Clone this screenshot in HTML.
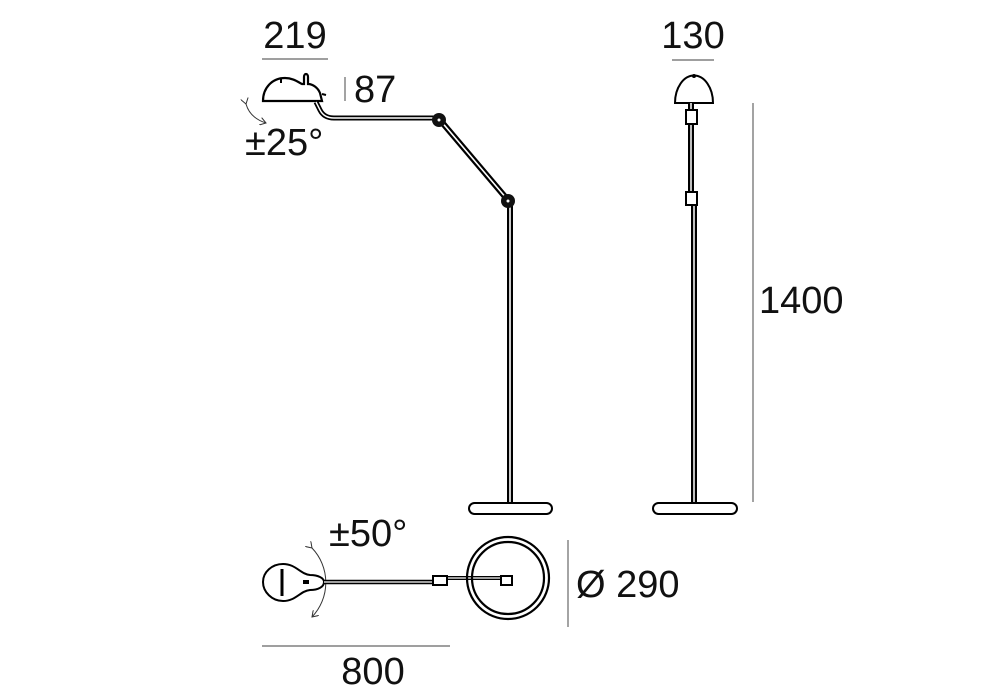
<!DOCTYPE html>
<html><head><meta charset="utf-8"><style>
html,body{margin:0;padding:0;background:#fff;width:1000px;height:700px;overflow:hidden}
svg{display:block}
text{font-family:"Liberation Sans",Arial,sans-serif;fill:#111}
</style></head><body>
<svg width="1000" height="700" viewBox="0 0 1000 700" xmlns="http://www.w3.org/2000/svg">
<defs>
<marker id="ah" markerWidth="8" markerHeight="8" refX="6" refY="4" orient="auto" markerUnits="userSpaceOnUse">
<path d="M0,0 L6,4 L0,8" fill="none" stroke="#333" stroke-width="1"/>
</marker>
</defs>
<!-- Side view -->
<text x="295" y="48" font-size="38" text-anchor="middle">219</text>
<line x1="262" y1="59" x2="328" y2="59" stroke="#666" stroke-width="1.2"/>
<text x="354" y="102" font-size="38">87</text>
<line x1="345" y1="77" x2="345" y2="101" stroke="#666" stroke-width="1.2"/>
<path d="M263,101 C263,88 272,78 285,78 C293,78 298,82 302,84 L304,84 L304,77 C304,73 308,73 308,77 L308,84 C313,84 318,88 320,93 L322,101 Z" fill="#fff" stroke="#000" stroke-width="2.2"/>
<line x1="281" y1="78" x2="281" y2="83" stroke="#000" stroke-width="2"/>
<path d="M322,94 L326,95" stroke="#000" stroke-width="2"/>
<path d="M316,102 L320,110 Q324,118 334,118 L438,118" fill="none" stroke="#000" stroke-width="5"/>
<path d="M316,102 L320,110 Q324,118 334,118 L438,118" fill="none" stroke="#fff" stroke-width="1.4"/>
<line x1="440" y1="120" x2="507" y2="199" stroke="#000" stroke-width="6"/>
<line x1="440" y1="120" x2="507" y2="199" stroke="#fff" stroke-width="1.6"/>
<line x1="510" y1="200" x2="510" y2="504" stroke="#000" stroke-width="6"/>
<line x1="510" y1="200" x2="510" y2="504" stroke="#fff" stroke-width="1.6"/>
<circle cx="439" cy="120" r="7" fill="#111"/>
<circle cx="439" cy="120" r="1.5" fill="#fff"/>
<circle cx="508" cy="201" r="7" fill="#111"/>
<circle cx="508" cy="201" r="1.5" fill="#fff"/>
<rect x="469" y="503" width="83" height="11" rx="5.5" fill="#fff" stroke="#000" stroke-width="2"/>
<path d="M246,104 Q250,118 266,123" fill="none" stroke="#333" stroke-width="1" marker-end="url(#ah)" marker-start="url(#ah)"/>
<text x="245" y="155" font-size="38">±25°</text>

<!-- Front view -->
<text x="693" y="48" font-size="38" text-anchor="middle">130</text>
<line x1="672" y1="60" x2="714" y2="60" stroke="#666" stroke-width="1.2"/>
<path d="M675,103 A18,26 0 0 1 713,103 Z" fill="#fff" stroke="#000" stroke-width="2"/>
<circle cx="694" cy="76" r="2" fill="#000"/>
<line x1="691" y1="103" x2="691" y2="192" stroke="#000" stroke-width="6"/>
<line x1="691" y1="103" x2="691" y2="192" stroke="#fff" stroke-width="1.5"/>
<line x1="694" y1="192" x2="694" y2="504" stroke="#000" stroke-width="6"/>
<line x1="694" y1="192" x2="694" y2="504" stroke="#fff" stroke-width="1.5"/>
<rect x="686" y="110" width="11" height="14" fill="#fff" stroke="#000" stroke-width="2"/>
<rect x="686" y="192" width="11" height="13" fill="#fff" stroke="#000" stroke-width="2"/>
<rect x="653" y="503" width="84" height="11" rx="5.5" fill="#fff" stroke="#000" stroke-width="2"/>
<line x1="753" y1="103" x2="753" y2="502" stroke="#666" stroke-width="1.2"/>
<text x="759" y="313" font-size="38">1400</text>

<!-- Top view -->
<text x="329" y="546" font-size="38">±50°</text>
<path d="M312,548 A50,50 0 0 1 312,617" fill="none" stroke="#333" stroke-width="1" marker-end="url(#ah)" marker-start="url(#ah)"/>
<path d="M283,564 C296,564 300,574 310,575 C318,575 324,578 324,582 C324,587 318,590 310,590 C300,591 296,601 283,601 C272,601 263,592 263,582 C263,572 272,564 283,564 Z" fill="#fff" stroke="#000" stroke-width="2"/>
<line x1="282" y1="569" x2="282" y2="596" stroke="#000" stroke-width="3"/>
<rect x="303" y="580" width="6" height="4" fill="#000"/>
<line x1="324" y1="582" x2="436" y2="582" stroke="#000" stroke-width="4.5"/>
<line x1="324" y1="582" x2="436" y2="582" stroke="#fff" stroke-width="1.3"/>
<line x1="447" y1="578" x2="513" y2="578" stroke="#000" stroke-width="4"/>
<line x1="447" y1="578" x2="513" y2="578" stroke="#fff" stroke-width="1.2"/>
<circle cx="508" cy="578" r="41" fill="none" stroke="#000" stroke-width="2.2"/>
<circle cx="508" cy="578" r="36" fill="none" stroke="#000" stroke-width="2.2"/>
<rect x="433" y="576" width="14" height="9" fill="#fff" stroke="#000" stroke-width="2"/>
<rect x="501" y="576" width="11" height="9" fill="#fff" stroke="#000" stroke-width="2"/>
<line x1="568" y1="540" x2="568" y2="627" stroke="#666" stroke-width="1.2"/>
<text x="576" y="597" font-size="38">Ø 290</text>
<line x1="262" y1="646" x2="450" y2="646" stroke="#666" stroke-width="1.2"/>
<text x="373" y="684" font-size="38" text-anchor="middle">800</text>
</svg>
</body></html>
